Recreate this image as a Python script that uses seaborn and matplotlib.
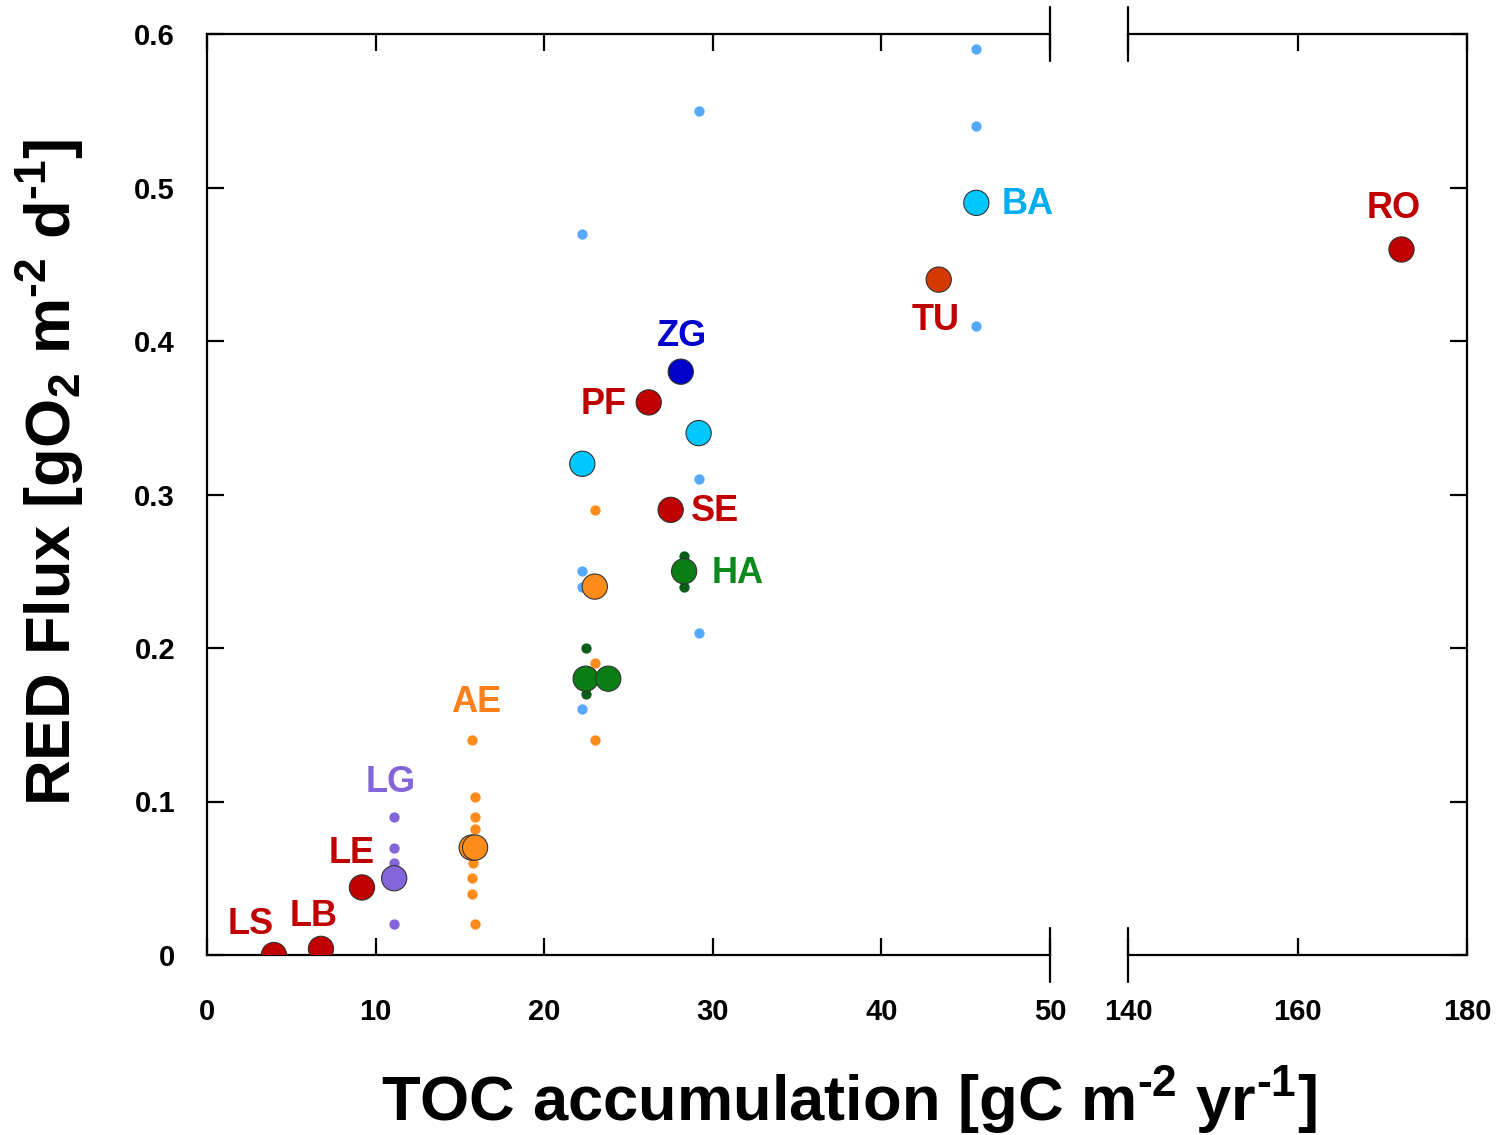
import numpy as np
import pandas as pd
import matplotlib
matplotlib.use('Agg')
import matplotlib.pyplot as plt
import seaborn as sns

sns.set_style('white')
plt.rcParams['font.family'] = ['Liberation Sans', 'DejaVu Sans']
plt.rcParams['font.weight'] = 'bold'
plt.rcParams['text.color'] = 'black'
plt.rcParams['xtick.color'] = 'black'
plt.rcParams['ytick.color'] = 'black'
plt.rcParams['mathtext.fontset'] = 'custom'
plt.rcParams['mathtext.rm'] = 'Liberation Sans:bold'
plt.rcParams['mathtext.bf'] = 'Liberation Sans:bold'
plt.rcParams['mathtext.default'] = 'rm'

# --- datos: sitios (puntos grandes) ---
site_names = ['LS', 'LB', 'LE', 'LG', 'AE', 'AE', 'PF', 'ZG', 'SE', 'HA', 'TU', 'BA']
site_x = [3.97, 6.76, 9.19, 11.1, 15.7, 15.9, 26.2, 28.1, 27.5, 28.3, 43.4, 45.63]
site_y = [0.0, 0.004, 0.044, 0.05, 0.07, 0.07, 0.36, 0.38, 0.29, 0.25, 0.44, 0.49]
site_col = ['#C00000', '#C00000', '#C00000', '#8466DA', '#FF8C1A', '#FF8C1A',
            '#C00000', '#0000CC', '#C00000', '#0A7D14', '#D43A00', '#00C8FF']

# otros puntos grandes sin etiqueta
extra_x = [22.26, 29.16, 23.0, 22.46, 23.8]
extra_y = [0.32, 0.34, 0.24, 0.18, 0.18]
extra_col = ['#00C8FF', '#00C8FF', '#FF8C1A', '#0A7D14', '#0A7D14']

# RO (eje derecho)
ro_x = [172.2]
ro_y = [0.46]

# --- puntos pequenos (mediciones individuales) ---
lg_x = [11.1, 11.1, 11.1, 11.1]
lg_y = [0.09, 0.07, 0.06, 0.02]
ae_x = [15.7, 15.9, 15.9, 15.9, 15.8, 15.7, 15.7, 15.9, 23.0, 23.0, 23.0]
ae_y = [0.14, 0.103, 0.09, 0.082, 0.06, 0.05, 0.04, 0.02, 0.29, 0.19, 0.14]
bl_x = [22.26, 22.26, 22.26, 22.26, 29.16, 29.16, 29.16, 45.63, 45.63, 45.63]
bl_y = [0.47, 0.25, 0.24, 0.16, 0.55, 0.31, 0.21, 0.59, 0.54, 0.41]
gr_x = [22.46, 22.46, 28.3, 28.3]
gr_y = [0.20, 0.17, 0.26, 0.24]

# etiquetas: (texto, x, y, color, desplazamiento en pixeles)
labels = [
    ('LS', 3.97, 0.0, '#C00000', (-23, 31), 'left'),
    ('LB', 6.76, 0.004, '#C00000', (-7, 32), 'left'),
    ('LE', 9.19, 0.044, '#C00000', (-10, 34), 'left'),
    ('LG', 11.1, 0.05, '#8466DA', (-3, 96), 'left'),
    ('AE', 15.7, 0.07, '#FF7F1A', (4, 145), 'left'),
    ('PF', 26.2, 0.36, '#C00000', (-45, -2), 'left'),
    ('ZG', 28.1, 0.38, '#0000CC', (1, 35), 'left'),
    ('SE', 27.5, 0.29, '#C00000', (44, -2), 'left'),
    ('HA', 28.3, 0.25, '#0A8A1A', (54, -2), 'left'),
    ('TU', 43.4, 0.44, '#C00000', (-3, -41), 'left'),
    ('BA', 45.63, 0.49, '#00AEEF', (51, -2), 'left'),
    ('RO', 172.2, 0.46, '#C00000', (-7, 40), 'right'),
]

fig = plt.figure(figsize=(15.01, 11.35), dpi=100)
ax1 = fig.add_axes([207/1501, 180/1135, 843/1501, 921/1135])
ax2 = fig.add_axes([1128/1501, 180/1135, 339/1501, 921/1135])

big = 330
small = 55

# pequenos primero
for xs, ys, c in [(lg_x, lg_y, '#8466DA'), (ae_x, ae_y, '#FF8C1A'),
                  (bl_x, bl_y, '#55AAFF'), (gr_x, gr_y, '#0B5E1A')]:
    sns.scatterplot(x=xs, y=ys, color=c, s=small, linewidth=0, ax=ax1, zorder=2)

# grandes
sns.scatterplot(x=extra_x, y=extra_y, hue=[str(i) for i in range(len(extra_x))],
                palette=extra_col, s=big, edgecolor='#333333', linewidth=0.8,
                legend=False, ax=ax1, zorder=3)
sns.scatterplot(x=site_x, y=site_y, hue=[str(i) for i in range(len(site_x))],
                palette=site_col, s=big, edgecolor='#333333', linewidth=0.8,
                legend=False, ax=ax1, zorder=3)
sns.scatterplot(x=ro_x, y=ro_y, color='#C00000', s=big, edgecolor='#333333',
                linewidth=0.8, ax=ax2, zorder=3)

for txt, x, y, c, off, side in labels:
    ax = ax1 if side == 'left' else ax2
    ax.annotate(txt, (x, y), xytext=off, textcoords='offset pixels',
                ha='center', va='center', color=c, fontsize=26,
                fontweight='bold', annotation_clip=False)

# ejes
ax1.set_xlim(0, 50)
ax2.set_xlim(140, 180)
for ax in (ax1, ax2):
    ax.set_ylim(0, 0.6)
    ax.set_yticks(np.arange(0, 0.61, 0.1))
    for s in ax.spines.values():
        s.set_linewidth(1.6)
        s.set_color('black')
    ax.tick_params(direction='in', length=12, width=1.6, labelsize=21,
                   top=True, bottom=True, colors='black')

ax1.set_xticks([0, 10, 20, 30, 40, 50])
ax1.set_xticklabels(['0', '10', '20', '30', '40', '50'])
ax1.set_yticklabels(['0', '0.1', '0.2', '0.3', '0.4', '0.5', '0.6'])
ax1.spines['right'].set_visible(False)
ax1.tick_params(axis='y', left=True, right=False, pad=23)
ax1.tick_params(axis='x', pad=31)

ax2.set_xticks([140, 160, 180])
ax2.spines['left'].set_visible(False)
ax2.tick_params(axis='y', left=False, right=True, labelleft=False)
ax2.tick_params(axis='x', pad=31)

# marcas de corte
h = 27 / 921
for ax, xb in [(ax1, 1.0), (ax2, 0.0)]:
    for yb in (0.0, 1.0):
        ax.plot([xb, xb], [yb - h, yb + h], transform=ax.transAxes,
                color='black', lw=1.6, clip_on=False)

fig.text(849/1501, 1 - 1100/1135, r'TOC accumulation [gC m$^{\text{-}2}$ yr$^{\text{-}1}$]',
         ha='center', va='center', fontsize=45.5, fontweight='bold')
fig.text(50/1501, 1 - 472/1135, r'RED Flux [gO$_2$ m$^{\text{-}2}$ d$^{\text{-}1}$]',
         ha='center', va='center', rotation=90, fontsize=45.5, fontweight='bold')

fig.savefig('out.png', dpi=100)
